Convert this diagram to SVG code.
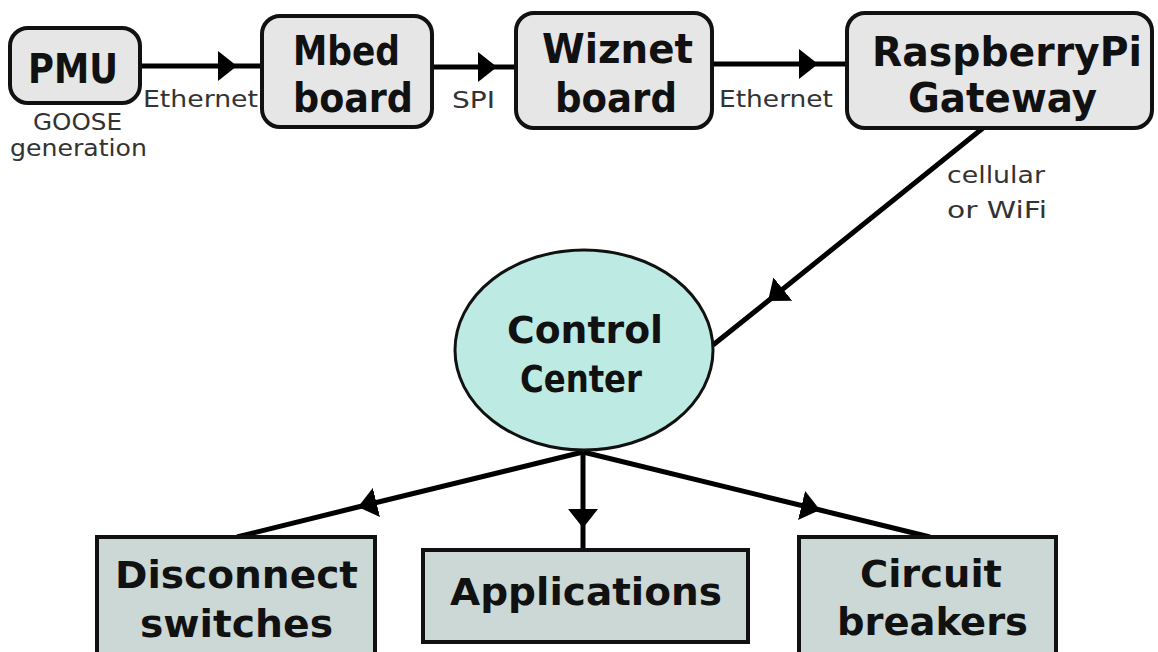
<svg xmlns="http://www.w3.org/2000/svg" width="1158" height="652" viewBox="0 0 1158 652">
<defs>
<style>
.tb{fill:#e6e6e6;stroke:#111;stroke-width:4}
.bb{fill:#cbd8d5;stroke:#111;stroke-width:4}
.big{font-family:"DejaVu Sans",Verdana,sans-serif;font-weight:bold;font-size:40px;fill:#111;text-anchor:start}
.mid{font-family:"DejaVu Sans",Verdana,sans-serif;font-weight:bold;font-size:37px;fill:#111}
.lbl{font-family:"DejaVu Sans",Verdana,sans-serif;font-size:23px;fill:#333}
.ln{fill:none;stroke:#000;stroke-width:5}
</style>
<marker id="arr" markerUnits="userSpaceOnUse" viewBox="0 0 19 30" markerWidth="19" markerHeight="30" refX="19" refY="15" orient="auto">
<path d="M0,0 L19,15 L0,30 z" fill="#000"/>
</marker>
</defs>
<rect width="1158" height="652" fill="#fff"/>
<g id="connectors">
<path class="ln" d="M140,66 L237,66 L262,66" marker-mid="url(#arr)"/>
<path class="ln" d="M432,67 L497,67 L516,67" marker-mid="url(#arr)"/>
<path class="ln" d="M712,64 L818,64 L847,64" marker-mid="url(#arr)"/>
<path class="ln" d="M983,128 L768,301 L713,345" marker-mid="url(#arr)"/>
<path class="ln" d="M583,452 L358,507 L237,537" marker-mid="url(#arr)"/>
<path class="ln" d="M583,452 L583,528 L583,550" marker-mid="url(#arr)"/>
<path class="ln" d="M583,452 L820,510 L930,537" marker-mid="url(#arr)"/>
<text class="lbl" x="143" y="107" textLength="115" lengthAdjust="spacingAndGlyphs">Ethernet</text>
<text class="lbl" x="452" y="108" textLength="43" lengthAdjust="spacingAndGlyphs">SPI</text>
<text class="lbl" x="719" y="107" textLength="114" lengthAdjust="spacingAndGlyphs">Ethernet</text>
<text class="lbl" x="947" y="183" textLength="98" lengthAdjust="spacingAndGlyphs">cellular</text>
<text class="lbl" x="947" y="218" textLength="100" lengthAdjust="spacingAndGlyphs">or WiFi</text>
</g>
<g id="pmu">
<rect class="tb" x="10" y="28" width="130" height="75" rx="18"/>
<text class="big" x="28" y="83" textLength="90" lengthAdjust="spacingAndGlyphs">PMU</text>
<text class="lbl" x="33" y="130" textLength="89" lengthAdjust="spacingAndGlyphs">GOOSE</text>
<text class="lbl" x="10" y="156" textLength="137" lengthAdjust="spacingAndGlyphs">generation</text>
</g>
<g id="mbed">
<rect class="tb" x="262" y="16" width="170" height="111" rx="18"/>
<text class="big" x="293" y="65" textLength="107" lengthAdjust="spacingAndGlyphs">Mbed</text>
<text class="big" x="293" y="112" textLength="120" lengthAdjust="spacingAndGlyphs">board</text>
</g>
<g id="wiznet">
<rect class="tb" x="516" y="13" width="196" height="115" rx="18"/>
<text class="big" x="542" y="63" textLength="151" lengthAdjust="spacingAndGlyphs">Wiznet</text>
<text class="big" x="555" y="112" textLength="122" lengthAdjust="spacingAndGlyphs">board</text>
</g>
<g id="rpi">
<rect class="tb" x="847" y="13" width="305" height="115" rx="18"/>
<text class="big" x="872" y="66" textLength="270" lengthAdjust="spacingAndGlyphs">RaspberryPi</text>
<text class="big" x="908" y="112" textLength="189" lengthAdjust="spacingAndGlyphs">Gateway</text>
</g>
<g id="control">
<ellipse cx="584" cy="350" rx="129" ry="100" fill="#bdeae3" stroke="#111" stroke-width="3"/>
<text class="mid" x="507" y="343" textLength="156" lengthAdjust="spacingAndGlyphs">Control</text>
<text class="mid" x="520" y="392" textLength="122" lengthAdjust="spacingAndGlyphs">Center</text>
</g>
<g id="disconnect">
<rect class="bb" x="97" y="537" width="278" height="125"/>
<text class="mid" x="115" y="588" textLength="243" lengthAdjust="spacingAndGlyphs">Disconnect</text>
<text class="mid" x="140" y="637" textLength="193" lengthAdjust="spacingAndGlyphs">switches</text>
</g>
<g id="applications">
<rect class="bb" x="423" y="550" width="325" height="92"/>
<text class="mid" x="450" y="605" textLength="272" lengthAdjust="spacingAndGlyphs">Applications</text>
</g>
<g id="circuit">
<rect class="bb" x="799" y="537" width="257" height="125"/>
<text class="mid" x="860" y="587" textLength="142" lengthAdjust="spacingAndGlyphs">Circuit</text>
<text class="mid" x="837" y="635" textLength="191" lengthAdjust="spacingAndGlyphs">breakers</text>
</g>
</svg>
